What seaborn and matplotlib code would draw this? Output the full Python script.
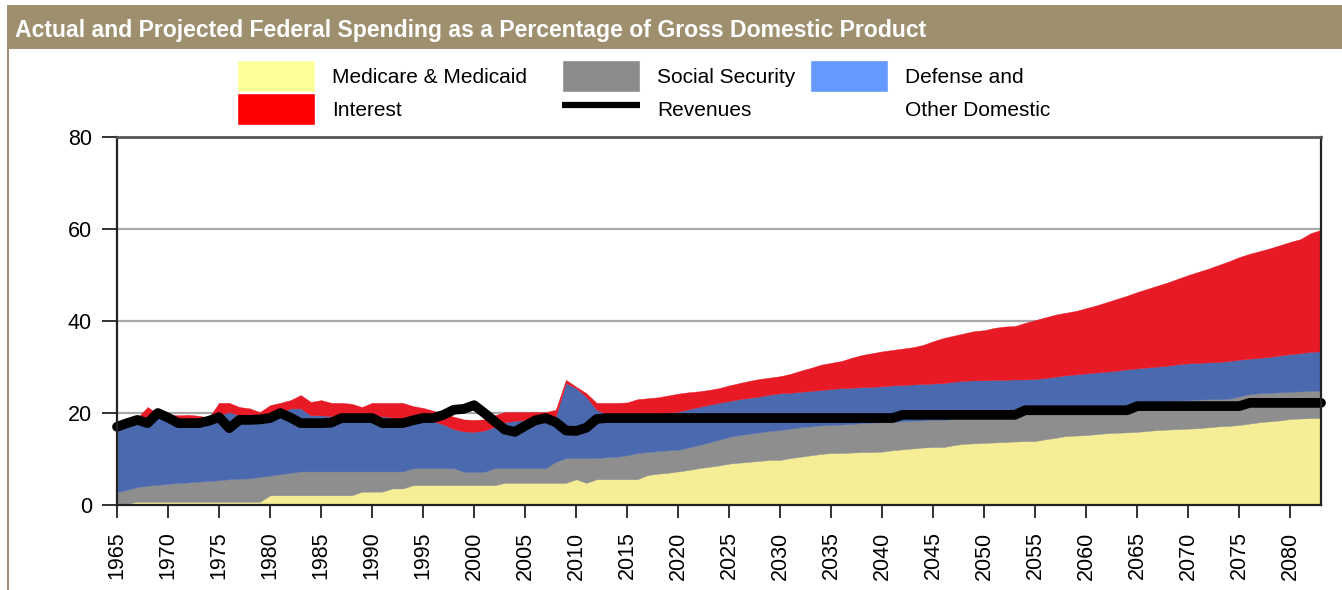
import numpy as np
import pandas as pd
import matplotlib
matplotlib.use('Agg')
import matplotlib.pyplot as plt
import seaborn as sns
from matplotlib import font_manager
from matplotlib.patches import Patch, Rectangle
from matplotlib.lines import Line2D

# Data: percent of GDP, 1965-2083
years = list(range(1965, 2084))

medicare_medicaid = [
    0.0, 0.3, 0.7, 0.7, 0.7, 0.7, 0.7, 0.7, 0.7, 0.7,
    0.7, 0.7, 0.7, 0.7, 0.7, 2.1, 2.1, 2.1, 2.1, 2.1,
    2.1, 2.1, 2.1, 2.1, 2.9, 2.9, 2.9, 3.6, 3.6, 4.3,
    4.3, 4.3, 4.3, 4.3, 4.3, 4.3, 4.3, 4.3, 4.8, 4.8,
    4.8, 4.8, 4.8, 4.8, 4.8, 5.6, 4.8, 5.6, 5.6, 5.6,
    5.6, 5.6, 6.5, 6.8, 7.0, 7.3, 7.6, 8.0, 8.3, 8.6,
    9.0, 9.2, 9.4, 9.6, 9.8, 9.8, 10.2, 10.5, 10.8, 11.1,
    11.3, 11.3, 11.4, 11.5, 11.5, 11.6, 11.9, 12.1, 12.3, 12.5,
    12.6, 12.6, 13.0, 13.3, 13.4, 13.5, 13.6, 13.7, 13.8, 13.9,
    13.9, 14.3, 14.6, 15.0, 15.1, 15.2, 15.4, 15.6, 15.7, 15.8,
    15.9, 16.1, 16.3, 16.4, 16.5, 16.6, 16.7, 16.9, 17.1, 17.2,
    17.4, 17.7, 18.0, 18.2, 18.4, 18.7, 18.8, 18.9, 18.9,
]

social_security = [
    2.8, 3.0, 3.2, 3.5, 3.7, 3.9, 4.1, 4.2, 4.4, 4.5,
    4.7, 4.9, 5.0, 5.1, 5.4, 4.3, 4.6, 4.9, 5.2, 5.2,
    5.2, 5.2, 5.2, 5.2, 4.4, 4.4, 4.4, 3.7, 3.7, 3.7,
    3.7, 3.7, 3.7, 3.7, 2.9, 2.9, 2.9, 3.7, 3.2, 3.2,
    3.2, 3.2, 3.2, 4.6, 5.4, 4.6, 5.4, 4.6, 4.8, 4.9,
    5.2, 5.7, 5.0, 4.9, 4.9, 4.7, 4.9, 5.0, 5.3, 5.6,
    5.8, 6.0, 6.1, 6.2, 6.3, 6.5, 6.4, 6.4, 6.3, 6.2,
    6.1, 6.2, 6.2, 6.3, 6.4, 6.4, 6.1, 6.1, 6.0, 5.9,
    5.9, 5.9, 5.7, 5.6, 5.6, 5.6, 5.5, 5.5, 5.5, 5.9,
    6.1, 5.8, 5.7, 5.4, 5.4, 5.4, 5.3, 5.2, 5.2, 5.3,
    5.9, 6.1, 6.1, 6.2, 6.2, 6.2, 6.2, 6.1, 5.9, 5.9,
    6.2, 6.4, 6.3, 6.2, 6.1, 5.9, 5.9, 5.9, 5.9,
]

defense_other = [
    13.5, 14.2, 14.6, 14.8, 14.6, 14.2, 13.7, 13.6, 13.2, 13.3,
    14.1, 14.6, 13.8, 13.2, 12.7, 12.9, 13.3, 14.0, 13.7, 12.2,
    12.2, 12.0, 11.7, 11.5, 11.5, 11.9, 12.0, 11.7, 11.4, 10.5,
    10.5, 10.2, 9.5, 8.5, 8.8, 8.7, 9.0, 9.0, 10.0, 10.3,
    10.5, 10.5, 10.5, 9.9, 16.3, 15.2, 13.3, 10.5, 9.4, 9.1,
    8.8, 8.4, 8.3, 8.2, 8.2, 8.3, 8.3, 8.3, 8.2, 8.0,
    7.8, 7.8, 7.8, 7.8, 7.9, 8.0, 7.8, 7.7, 7.7, 7.7,
    7.8, 7.9, 7.9, 7.8, 7.8, 7.8, 8.0, 7.9, 7.9, 7.9,
    7.9, 8.0, 8.1, 8.1, 8.1, 8.0, 8.1, 8.0, 8.0, 7.5,
    7.4, 7.5, 7.6, 7.8, 7.9, 8.0, 8.1, 8.2, 8.3, 8.4,
    7.9, 7.7, 7.7, 7.7, 7.9, 8.0, 8.0, 8.0, 8.1, 8.2,
    8.0, 7.7, 7.7, 7.8, 8.0, 8.2, 8.3, 8.5, 8.6,
]

interest = [
    0.2, 0.3, 0.5, 2.3, 0.8, 0.8, 1.0, 1.1, 1.1, 0.5,
    2.7, 2.0, 1.8, 2.0, 1.4, 2.4, 2.2, 1.8, 2.9, 2.9,
    3.3, 2.9, 3.2, 3.2, 2.5, 3.0, 2.9, 3.2, 3.5, 3.0,
    2.6, 2.3, 2.3, 2.7, 2.6, 2.6, 2.4, 2.5, 2.2, 1.9,
    1.7, 1.7, 1.7, 1.4, 0.7, 0.3, 0.8, 1.5, 2.4, 2.6,
    2.7, 3.3, 3.4, 3.5, 3.7, 3.9, 3.7, 3.4, 3.2, 3.2,
    3.4, 3.5, 3.7, 3.8, 3.7, 3.7, 4.1, 4.6, 5.0, 5.5,
    5.7, 5.9, 6.5, 7.0, 7.3, 7.6, 7.7, 7.9, 8.1, 8.5,
    9.2, 9.8, 10.0, 10.3, 10.7, 10.9, 11.3, 11.6, 11.6, 12.3,
    12.8, 13.2, 13.5, 13.6, 13.8, 14.2, 14.6, 15.1, 15.6, 16.0,
    16.6, 17.1, 17.6, 18.1, 18.6, 19.2, 19.8, 20.4, 21.1, 21.7,
    22.3, 22.8, 23.2, 23.6, 24.0, 24.4, 24.8, 25.8, 26.4,
]

revenues = [
    17.0, 17.8, 18.5, 17.8, 20.0, 19.0, 17.8, 17.8, 17.8, 18.3,
    19.1, 16.7, 18.5, 18.5, 18.6, 18.9, 20.0, 19.0, 17.8, 17.8,
    17.8, 17.9, 18.9, 18.9, 18.9, 18.9, 17.8, 17.8, 17.8, 18.4,
    18.9, 18.9, 19.6, 20.7, 20.9, 21.7, 20.0, 18.2, 16.4, 15.9,
    17.2, 18.4, 18.9, 18.0, 16.2, 16.1, 16.8, 18.7, 18.9, 18.9,
    18.9, 18.9, 18.9, 18.9, 18.9, 18.9, 18.9, 18.9, 18.9, 18.9,
    18.9, 18.9, 18.9, 18.9, 18.9, 18.9, 18.9, 18.9, 18.9, 18.9,
    18.9, 18.9, 18.9, 18.9, 18.9, 18.9, 18.9, 19.6, 19.6, 19.6,
    19.6, 19.6, 19.6, 19.6, 19.6, 19.6, 19.6, 19.6, 19.6, 20.6,
    20.6, 20.6, 20.6, 20.6, 20.6, 20.6, 20.6, 20.6, 20.6, 20.6,
    21.5, 21.5, 21.5, 21.5, 21.5, 21.5, 21.5, 21.5, 21.5, 21.5,
    21.5, 22.2, 22.2, 22.2, 22.2, 22.2, 22.2, 22.2, 22.2,
]

df = pd.DataFrame({'Year': years, 'Revenues': revenues})

# chart colours vs. the (brighter) legend swatches used in the original
area_colors = ['#F5EE97', '#8E8E8E', '#4A69AF', '#E71A25']
legend_colors = ['#FFFF99', '#8A8C8C', '#6699FF', '#FF0000']
band = '#9E8F6E'

sns.set_theme(style='white')

# the original uses a condensed face; take a narrow one if there is one
installed = {f.name for f in font_manager.fontManager.ttflist}
if 'Liberation Sans Narrow' in installed:
    face, scale = 'Liberation Sans Narrow', 1.2
else:
    face, scale = 'Liberation Sans', 1.0
plt.rcParams['font.family'] = [face, 'DejaVu Sans']
plt.rcParams['text.color'] = 'black'
plt.rcParams['xtick.color'] = 'black'
plt.rcParams['ytick.color'] = 'black'

fig = plt.figure(figsize=(13.42, 5.90), dpi=100)
ax = fig.add_axes([117/1342, 1 - 505/590, (1321 - 117)/1342, (505 - 137)/590])

ax.stackplot(years, medicare_medicaid, social_security, defense_other, interest,
             colors=area_colors, linewidth=0.3, edgecolor='face')
sns.lineplot(data=df, x='Year', y='Revenues', color='black', linewidth=7, ax=ax)
ax.lines[-1].set_clip_on(False)

ax.set_xlim(1965, 2083)
ax.set_ylim(0, 80)
ax.set_xticks(range(1965, 2081, 5))
ax.set_yticks([0, 20, 40, 60, 80])
ax.set_xlabel('')
ax.set_ylabel('')
ax.set_axisbelow(True)
ax.yaxis.grid(True, color='#A9A9A9', linewidth=1.6)
ax.xaxis.grid(False)

for side in ['left', 'bottom', 'right']:
    ax.spines[side].set_color('#222222')
    ax.spines[side].set_linewidth(1.6)
ax.spines['top'].set_color('#555555')
ax.spines['top'].set_linewidth(2.0)

tick_size = 15.5 * scale
ax.tick_params(axis='x', direction='out', length=9, width=1.3, color='#222222',
               labelsize=tick_size, pad=10, labelrotation=90, bottom=True)
ax.tick_params(axis='y', direction='out', length=11, width=1.3, color='#222222',
               labelsize=tick_size, pad=7, left=True)

# title band across the top with the thin rule down the left edge
fig.patches.append(Rectangle((7/1342, 1 - 49/590), 1 - 7/1342, 44/590,
                             transform=fig.transFigure, facecolor=band,
                             edgecolor='none', zorder=0))
fig.patches.append(Rectangle((7/1342, 0), 2/1342, 1 - 49/590,
                             transform=fig.transFigure, facecolor=band,
                             edgecolor='none', zorder=0))
fig.text(15/1342, 1 - 37/590,
         'Actual and Projected Federal Spending as a Percentage of Gross Domestic Product',
         color='white', fontsize=16.6 * scale, fontweight='bold', va='baseline', ha='left')

# legend, three small columns
leg_fs = 15 * scale
fs_px = leg_fs * 100 / 72
leg_kw = dict(loc='upper left', frameon=False, fontsize=leg_fs, borderpad=0,
              handlelength=78 / fs_px, handleheight=2.0,
              handletextpad=17 / fs_px, labelspacing=0.05, borderaxespad=0)
col1 = [Patch(facecolor=legend_colors[0]), Patch(facecolor=legend_colors[3])]
col2 = [Patch(facecolor=legend_colors[1]),
        Line2D([], [], color='black', linewidth=4.5, solid_capstyle='butt')]
col3 = [Patch(facecolor=legend_colors[2]), Patch(facecolor='none', edgecolor='none')]
fig.legend(col1, ['Medicare & Medicaid', 'Interest'],
           bbox_to_anchor=(237/1342, 1 - 60/590), **leg_kw)
fig.legend(col2, ['Social Security', 'Revenues'],
           bbox_to_anchor=(562/1342, 1 - 60/590), **leg_kw)
fig.legend(col3, ['Defense and', 'Other Domestic'],
           bbox_to_anchor=(810/1342, 1 - 60/590), **leg_kw)

fig.savefig('out.png', dpi=100)
